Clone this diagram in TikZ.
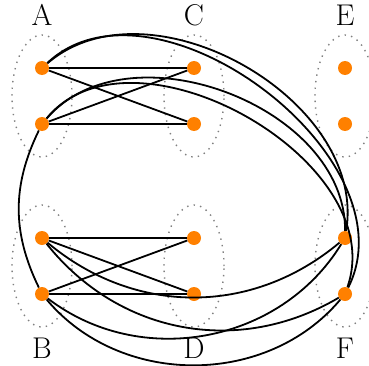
\documentclass[tikz,border=0pt]{standalone}
\definecolor{vorange}{RGB}{255,128,0}
\definecolor{blobgray}{RGB}{128,128,128}
\begin{document}
\begin{tikzpicture}[x=1pt,y=1pt,
  vtx/.style={circle,fill=vorange,inner sep=0pt,minimum size=14pt},
  blob/.style={draw=blobgray,line width=1.4pt,dash pattern=on 1.4pt off 5.2pt},
  link/.style={line width=1.8pt},
  lbl/.style={inner sep=0pt,font=\fontsize{30}{32}\selectfont}]
\useasboundingbox (0,0) rectangle (369,365);

% dotted groups
\foreach \cx/\cy in {42/269,194/269,345/269,42/99,194/99,345/99}
  \draw[blob] (\cx,\cy) ellipse [x radius=30, y radius=61];

% group labels
\node[lbl] (lA) at (42,350) {A};
\node[lbl] (lC) at (194,350) {C};
\node[lbl] (lE) at (345,350) {E};
\node[lbl] (lB) at (42,17) {B};
\node[lbl] (lD) at (194,17) {D};
\node[lbl] (lF) at (345,17) {F};

% vertices
\node[vtx] (A1) at (42,297) {};
\node[vtx] (A2) at (42,241) {};
\node[vtx] (C1) at (194,297) {};
\node[vtx] (C2) at (194,241) {};
\node[vtx] (E1) at (345,297) {};
\node[vtx] (E2) at (345,241) {};
\node[vtx] (B1) at (42,127) {};
\node[vtx] (B2) at (42,71) {};
\node[vtx] (D1) at (194,127) {};
\node[vtx] (D2) at (194,71) {};
\node[vtx] (F1) at (345,127) {};
\node[vtx] (F2) at (345,71) {};

% straight edges between neighbouring groups
\draw[link] (A1) -- (C1);
\draw[link] (A1) -- (C2);
\draw[link] (A2) -- (C1);
\draw[link] (A2) -- (C2);
\draw[link] (B1) -- (D1);
\draw[link] (B1) -- (D2);
\draw[link] (B2) -- (D1);
\draw[link] (B2) -- (D2);

% long arcs
\draw[link] (A1) to[bend left=70] (F1);
\draw[link] (A1) to[bend left=80] (F2);
\draw[link] (A2) to[bend left=70] (F1);
\draw[link] (A2) to[bend left=80] (F2);
\draw[link] (A2) to[bend right=26] (B2);
\draw[link] (B1) to[bend right=40] (F1);
\draw[link] (B1) to[bend right=41] (F2);
\draw[link] (B2) to[bend right=48] (F1);
\draw[link] (B2) to[bend right=50] (F2);
\end{tikzpicture}
\end{document}
